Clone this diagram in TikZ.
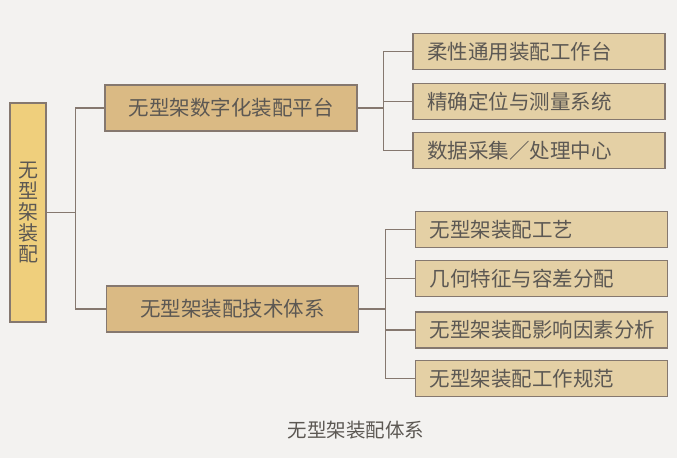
\documentclass[tikz,border=0pt]{standalone}
\usepackage{fontspec}
\newfontfamily\cjk{Noto Sans CJK SC}
\usetikzlibrary{calc}
\definecolor{paper}{HTML}{F3F2F0}
\definecolor{rootfill}{HTML}{EFCF7C}
\definecolor{midfill}{HTML}{DABA84}
\definecolor{leaffill}{HTML}{E4D0A5}
\definecolor{edgegray}{HTML}{85786F}
\definecolor{inkgray}{HTML}{5C5853}

\tikzset{
	box/.style={draw=edgegray, line width=1.4pt, text=inkgray, font=\cjk\fontsize{20.5}{22}\selectfont, inner sep=0pt},
	rootbox/.style={box, fill=rootfill, minimum width=36pt, minimum height=219pt, align=center, font=\cjk\fontsize{20}{21}\selectfont},
	midbox/.style={box, fill=midfill, minimum width=252pt, minimum height=46pt},
	leafbox/.style={box, fill=leaffill, minimum height=36pt, text width=224pt, align=left, inner xsep=14pt},
	link/.style={draw=edgegray, line width=1.1pt}
}

\begin{document}
\begin{tikzpicture}[x=1pt, y=-1pt]
\fill[paper] (0,0) rectangle (677,458);

% root and the two branches
\node[rootbox] (root) at (28,212.5) {无\\型\\架\\装\\配};
\node[midbox] (plat) at (231,108) {无型架数字化装配平台};
\node[midbox] (tech) at (232.5,309) {无型架装配技术体系};

% leaves of the platform
\node[leafbox] (p1) at (539,51.5) {柔性通用装配工作台};
\node[leafbox] (p2) at (539,101.5) {精确定位与测量系统};
\node[leafbox] (p3) at (539,150.5) {数据采集／处理中心};

% leaves of the technology system
\node[leafbox] (t1) at (541.5,229.5) {无型架装配工艺};
\node[leafbox] (t2) at (541.5,278.5) {几何特征与容差分配};
\node[leafbox] (t3) at (541.5,330) {无型架装配影响因素分析};
\node[leafbox] (t4) at (541.5,378.5) {无型架装配工作规范};

\node[text=inkgray, font=\cjk\fontsize{19.5}{21}\selectfont] (cap) at (356,430) {无型架装配体系};

\draw[link] (root.east) -- ++(29,0) coordinate (rb);
\path[link]
(rb) |- (plat.west)
(rb) |- (tech.west)
;
\draw[link] (plat.east) -- ++(26,0) coordinate (pb);
\path[link]
(pb) |- (p1.west)
(pb) |- (p2.west)
(pb) |- (p3.west)
;
\draw[link] (tech.east) -- ++(26,0) coordinate (tb);
\path[link]
(tb) |- (t1.west)
(tb) |- (t2.west)
(tb) |- (t3.west)
(tb) |- (t4.west)
;
\end{tikzpicture}
\end{document}
